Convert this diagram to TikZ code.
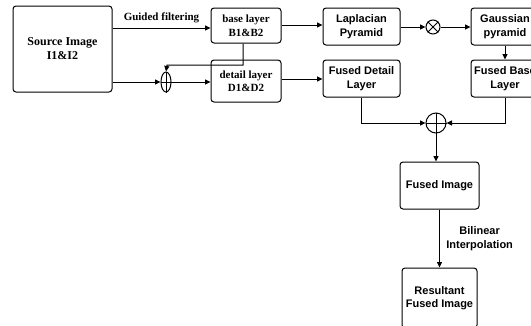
\documentclass[tikz,border=0pt]{standalone}
\usepackage{fontspec}
\setmainfont{Liberation Serif}
\setsansfont{Liberation Sans}
\usetikzlibrary{arrows.meta, shapes.geometric, positioning}

\tikzset{
  block/.style={draw, rounded corners=3pt, line width=1pt, align=center,
    font=\sffamily\bfseries\fontsize{11}{13.5}\selectfont, inner sep=1pt},
  sblock/.style={block, font=\bfseries\fontsize{11}{13.5}\selectfont},
  joint/.style={draw, circle, line width=1pt, inner sep=0pt},
  flow/.style={-{Triangle[length=5.5pt,width=5pt]}, line width=1pt},
}

\begin{document}
\begin{tikzpicture}[x=1pt, y=-1pt]
  \useasboundingbox (0,0) rectangle (531,325);
  \clip (0,0) rectangle (531,325);

  % first stage
  \node [sblock, minimum width=99pt, minimum height=86pt, font=\bfseries\fontsize{12}{14}\selectfont] (src) at (62.5,49) {Source Image\\I1\&I2};
  \node [sblock, minimum width=70pt, minimum height=35pt] (base) at (246,25.5) {base layer\\B1\&B2};
  \node [sblock, minimum width=70pt, minimum height=42pt] (detail) at (246,81) {detail layer\\D1\&D2};
  \node [joint, ellipse, minimum width=10pt, minimum height=20pt] (split) at (166,82) {};
  \draw [line width=1pt] (split.north) -- (split.south) (split.west) -- (split.east);

  % pyramids
  \node [block, minimum width=77pt, minimum height=37pt] (lap) at (361.5,26.5) {Laplacian\\Pyramid};
  \node [joint, minimum size=14pt] (mul) at (433,27) {};
  \draw [line width=1pt] (mul.north west) -- (mul.south east) (mul.north east) -- (mul.south west);
  \node [block, minimum width=68pt, minimum height=37pt] (gauss) at (505,26.5) {Gaussian\\pyramid};
  \node [block, minimum width=68pt, minimum height=37pt] (fbase) at (505,78.5) {Fused Base\\Layer};
  \node [block, minimum width=77pt, minimum height=37pt] (fdetail) at (361.5,78.5) {Fused Detail\\Layer};

  % fusion
  \node [joint, minimum size=20pt] (add) at (436,123) {};
  \draw [line width=1pt] (add.north) -- (add.south) (add.west) -- (add.east);
  \node [block, minimum width=79pt, minimum height=47pt] (fimg) at (439.5,185.5) {Fused Image};
  \node [block, minimum width=75pt, minimum height=60pt] (res) at (439.5,298) {Resultant\\Fused Image};

  % connectors
  \draw [flow] (src.east |- 0,28) -- node [above=1pt, font=\bfseries\fontsize{11}{13}\selectfont] {Guided filtering} (base.west |- 0,28);
  \draw [flow] (src.east |- split) -- (split.west);
  \draw [flow] (split.east) -- (detail.west |- split);
  \draw [flow] (base.south -| 243,0) |- (167,65) -- (split.north);
  \draw [flow] (base.east |- 0,25) -- (lap.west |- 0,25);
  \draw [flow] (lap.east |- mul) -- (mul.west);
  \draw [flow] (mul.east) -- (gauss.west |- mul);
  \draw [flow] (gauss.south) -- (fbase.north);
  \draw [flow] (detail.east |- 0,79) -- (fdetail.west |- 0,79);
  \draw [flow] (fdetail.south) |- (add.west);
  \draw [flow] (fbase.south) |- (add.east);
  \draw [flow] (add.south) -- (add.south |- fimg.north);
  \draw [flow] (fimg.south) -- node [right=3pt, align=center, font=\sffamily\bfseries\fontsize{11}{13.5}\selectfont] {Bilinear\\Interpolation} (res.north);
\end{tikzpicture}
\end{document}
